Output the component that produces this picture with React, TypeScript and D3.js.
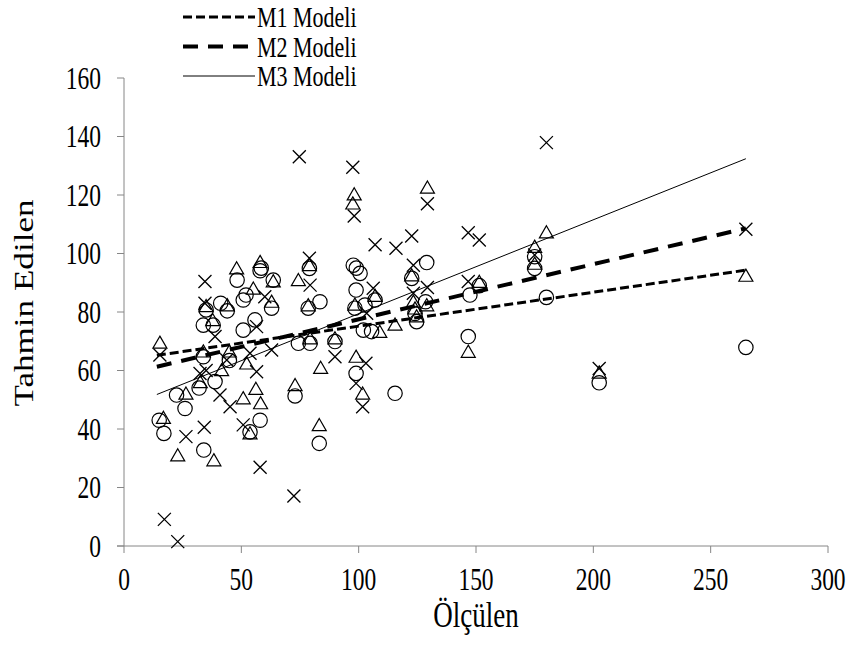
import React from "react";
import * as d3 from "d3";

const circlePoints: [number, number][] = [
  [15, 43], [17, 38.5], [22.4, 51.6], [26, 47], [34, 32.8], [32, 54], [38.8, 56.2],
  [33.8, 64.7], [44.9, 63.4], [33.8, 75.5], [38, 75.5], [35, 80.7], [41.2, 83], [44, 80.4],
  [48.2, 90.9], [58, 94.1], [58.5, 95], [63.6, 90.9], [52, 85.8], [50.8, 84.1], [62.9, 81.3],
  [55.8, 77.3], [50.8, 73.8], [58, 43], [53.7, 39], [74.3, 69.3], [72.9, 51.3], [79.3, 69.3],
  [79, 94.9], [78.5, 81.3], [83.5, 83.5], [83.2, 35.1], [89.9, 69.9], [97.7, 96], [99, 95],
  [100.6, 93.2], [98.9, 87.5], [98.4, 81.3], [102.7, 82.4], [98.9, 59], [102, 73.8],
  [105.5, 73.3], [107, 84.1], [115.5, 52.2], [122.6, 91.5], [124, 79.5], [124.7, 76.7],
  [128.5, 83.5], [129, 96.9], [146.7, 71.6], [147.4, 85.8], [151.4, 89], [175, 98.9],
  [175, 94.9], [180, 85], [202.5, 55.8], [265, 67.9],
];

const trianglePoints: [number, number][] = [
  [15.3, 69], [16.8, 43.3], [26.4, 51.6], [22.9, 30.5], [38.3, 28.8], [33.8, 66], [41.6, 59.6],
  [44.9, 66], [50.8, 50], [56.2, 53.2], [58.2, 48.3], [53.7, 38], [52.3, 61.9], [48, 94.4],
  [58, 96.6], [63.6, 90], [35, 81.5], [44, 81.8], [55.1, 87.5], [62.9, 83], [37.8, 76.7],
  [32.5, 55.5], [72.9, 54.5], [74.3, 90.4], [79, 95.5], [78.5, 81.8], [79.3, 70.5],
  [83.8, 60.4], [83.2, 40.8], [89.9, 70.5], [98.1, 119.7], [97.5, 116.6], [98.4, 82],
  [98.9, 64.2], [101.7, 51.6], [107, 85], [109, 72.7], [115.5, 75.2], [122.6, 92], [123.3, 83],
  [124, 80.7], [124.7, 78], [129.3, 122], [129, 81.8], [146.7, 65.9], [151.4, 89.8],
  [175, 101.8], [175, 96], [180, 106.7], [202.5, 58.8], [265, 91.9],
];

const crossPoints: [number, number][] = [
  [15.3, 65.3], [17.2, 9.1], [22.9, 1.5], [26.4, 37.4], [34.2, 40.6], [34.5, 90.4], [34.5, 83],
  [38.8, 71.6], [32.4, 59], [35, 60], [40.9, 51.6], [45.2, 47.6], [50.8, 41.4], [58, 26.9],
  [56.5, 59.6], [53.7, 65.9], [62.9, 67], [43.8, 63.6], [56.5, 75], [60, 85.2], [74.7, 133.1],
  [72.4, 17.1], [79, 98.4], [79.3, 89.2], [89.9, 64.7], [97.5, 129.5], [98.1, 112.8],
  [98.9, 55.6], [101.7, 47.6], [103.1, 62.5], [103.4, 79.6], [106.2, 88.1], [107, 103],
  [115.9, 101.8], [122.6, 106], [123.3, 96], [123.3, 86.4], [129.3, 117], [129.3, 88.4],
  [146.7, 107.1], [151.4, 104.6], [146.7, 90.4], [175, 99.5], [180, 137.9], [202.5, 60.7],
  [265, 108.3],
];

// Fitted model lines: [x, y] at both ends
const m1Line: [number, number][] = [[14, 65.2], [265, 94.3]];
const m2Line: [number, number][] = [[14, 61.3], [265, 108.6]];
const m3Line: [number, number][] = [[14, 51.8], [265, 132.4]];

const xTicks = [0, 50, 100, 150, 200, 250, 300];
const yTicks = [0, 20, 40, 60, 80, 100, 120, 140, 160];

const legendItems = [
  { label: "M1 Modeli", width: 3, dash: "9,4" },
  { label: "M2 Modeli", width: 4, dash: "15,10" },
  { label: "M3 Modeli", width: 1, dash: "none" },
];

const FONT = "Liberation Serif, Times New Roman, serif";
const STRETCH = 1.3;

export default function App() {
  const W = 864;
  const H = 648;
  const x = d3.scaleLinear().domain([0, 300]).range([124, 828]);
  const y = d3.scaleLinear().domain([0, 160]).range([546, 78]);
  const line = d3
    .line<[number, number]>()
    .x((d) => x(d[0]))
    .y((d) => y(d[1]));
  const axisColor = "#868686";
  const tri = d3.symbol().type(d3.symbolTriangle).size(85)();
  const lines = [m1Line, m2Line, m3Line];
  const ts = { fontFamily: FONT } as React.CSSProperties;

  return (
    <svg
      width={W}
      height={H}
      style={{ position: "absolute", left: 0, top: 0, background: "#fff" }}
    >
      <rect width={W} height={H} fill="#fff" />
      {/* axes */}
      <line x1={x(0)} x2={x(0)} y1={y(0)} y2={y(160)} stroke={axisColor} strokeWidth={1} />
      <line x1={x(0) - 7} x2={x(300)} y1={y(0)} y2={y(0)} stroke={axisColor} strokeWidth={1} />
      {yTicks.map((t) => (
        <g key={"y" + t}>
          <line x1={x(0) - 7} x2={x(0)} y1={y(t)} y2={y(t)} stroke={axisColor} />
          <text
            transform={`translate(101,${y(t)}) scale(1,${STRETCH})`}
            dy="0.35em"
            textAnchor="end"
            fontSize={23.5}
            fill="#000"
            style={ts}
          >
            {t}
          </text>
        </g>
      ))}
      {xTicks.map((t) => (
        <g key={"x" + t}>
          <line x1={x(t)} x2={x(t)} y1={y(0)} y2={y(0) + 7} stroke={axisColor} />
          <text
            transform={`translate(${x(t)},590) scale(1,${STRETCH})`}
            textAnchor="middle"
            fontSize={23.5}
            fill="#000"
            style={ts}
          >
            {t}
          </text>
        </g>
      ))}
      <text
        transform={`translate(476,627) scale(1,${STRETCH})`}
        textAnchor="middle"
        fontSize={27}
        fill="#000"
        style={ts}
      >
        Ölçülen
      </text>
      <text
        transform={`translate(33, 303) rotate(-90) scale(${STRETCH},1)`}
        textAnchor="middle"
        fontSize={27}
        fill="#000"
        style={ts}
      >
        Tahmin Edilen
      </text>

      {/* markers */}
      {circlePoints.map((d, i) => (
        <circle key={"c" + i} cx={x(d[0])} cy={y(d[1])} r={7.2} fill="none" stroke="#000" strokeWidth={1.2} />
      ))}
      {trianglePoints.map((d, i) => (
        <path
          key={"t" + i}
          d={tri as string}
          transform={`translate(${x(d[0])},${y(d[1])})`}
          fill="none"
          stroke="#000"
          strokeWidth={1.2}
        />
      ))}
      {crossPoints.map((d, i) => (
        <path
          key={"x" + i}
          d="M-6.5,-6.5L6.5,6.5M-6.5,6.5L6.5,-6.5"
          transform={`translate(${x(d[0])},${y(d[1])})`}
          fill="none"
          stroke="#000"
          strokeWidth={1.3}
        />
      ))}

      {/* model lines */}
      {lines.map((l, i) => (
        <path
          key={"l" + i}
          d={line(l) as string}
          fill="none"
          stroke="#000"
          strokeWidth={legendItems[i].width}
          strokeDasharray={legendItems[i].dash}
        />
      ))}

      {/* legend */}
      {legendItems.map((it, i) => {
        const ly = 17 + i * 29.5;
        return (
          <g key={"lg" + i}>
            <line
              x1={183}
              x2={255}
              y1={ly}
              y2={ly}
              stroke="#000"
              strokeWidth={it.width}
              strokeDasharray={it.dash}
            />
            <text
              transform={`translate(257,${ly}) scale(1,${STRETCH})`}
              dy="0.35em"
              fontSize={22}
              fill="#000"
              style={ts}
            >
              {it.label}
            </text>
          </g>
        );
      })}
    </svg>
  );
}
